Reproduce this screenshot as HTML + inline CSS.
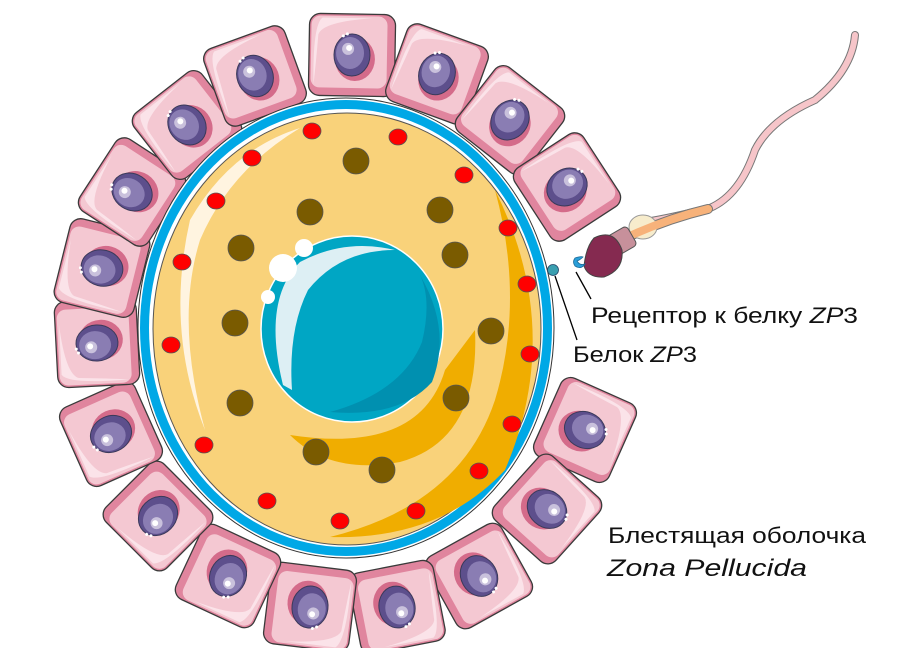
<!DOCTYPE html>
<html><head><meta charset="utf-8"><style>html,body{margin:0;padding:0;background:#fff}svg{display:block}</style></head>
<body>
<svg width="900" height="648" viewBox="0 0 900 648" xmlns="http://www.w3.org/2000/svg">
<defs>
<g id="cell">
<rect x="-43" y="-41" width="86" height="82" rx="11" fill="#e0859e" stroke="#3a3a3a" stroke-width="1.3"/>
<rect x="-41" y="-39" width="76" height="72" rx="9" fill="#f4c8d2"/>
<path d="M-38 30 Q-40 -30 -30 -37 L20 -37 Q-30 -33 -34 -20 Q-36 10 -38 30Z" fill="#fbe3e9"/>
<ellipse cx="3" cy="4" rx="20" ry="22" fill="#d46b8a"/>
<ellipse cx="0" cy="0" rx="18" ry="21" fill="#5d4f8c" stroke="#3a3a5a" stroke-width="1"/>
<ellipse cx="-2" cy="-2" rx="14" ry="16" fill="#8a7db3"/>
<ellipse cx="-4" cy="-6" rx="6" ry="6" fill="#c9c1dc"/>
<circle cx="-3" cy="-7" r="3" fill="#fff"/>
<circle cx="-9" cy="-19" r="1.5" fill="#fff"/><circle cx="-5" cy="-21" r="1.5" fill="#fff"/>
</g>
</defs>
<g>
<use href="#cell" transform="translate(352,55) rotate(1)"/>
<use href="#cell" transform="translate(437,74) rotate(20)"/>
<use href="#cell" transform="translate(510,120) rotate(38)"/>
<use href="#cell" transform="translate(567,187) rotate(57)"/>
<use href="#cell" transform="translate(585,430) rotate(114)"/>
<use href="#cell" transform="translate(547,509) rotate(132)"/>
<use href="#cell" transform="translate(479,576) rotate(151)"/>
<use href="#cell" transform="translate(397,607) rotate(169)"/>
<use href="#cell" transform="translate(310,607) rotate(187)"/>
<use href="#cell" transform="translate(228,576) rotate(205)"/>
<use href="#cell" transform="translate(158,516) rotate(225)"/>
<use href="#cell" transform="translate(111,434) rotate(246)"/>
<use href="#cell" transform="translate(97,343) rotate(267)"/>
<use href="#cell" transform="translate(102,268) rotate(284)"/>
<use href="#cell" transform="translate(132,192) rotate(303)"/>
<use href="#cell" transform="translate(187,125) rotate(322)"/>
<use href="#cell" transform="translate(255,76) rotate(340)"/>
</g>
<!-- zona -->
<ellipse cx="346" cy="328" rx="208" ry="230" fill="#fff" stroke="#333" stroke-width="1"/>
<ellipse cx="346" cy="328" rx="206" ry="228" fill="#00a8e6"/>
<ellipse cx="346" cy="328" rx="197" ry="219" fill="#fff"/>
<!-- cytoplasm -->
<ellipse cx="347" cy="329" rx="194" ry="216" fill="#f9d27a" stroke="#555" stroke-width="1"/>
<path d="M495 190 Q565 330 505 470 Q440 540 330 537 Q460 505 495 400 Q525 300 495 190Z" fill="#f0ad00"/>
<path d="M475 330 Q480 440 400 462 Q330 475 290 435 Q420 455 445 370Z" fill="#f0ad00"/>
<path d="M190 220 Q230 150 300 128 Q230 170 200 240 Q175 320 205 430 Q165 330 190 220Z" fill="#fff4e0"/>
<!-- nucleus -->
<ellipse cx="352" cy="329" rx="91" ry="93" fill="#00a6c4" stroke="#fff" stroke-width="1.5"/>
<path d="M283 385 Q262 300 300 262 Q345 238 395 250 Q340 250 308 290 Q288 330 292 390Z" fill="#ddeff4"/>
<path d="M420 275 Q452 330 432 382 Q400 418 330 412 Q402 392 422 342 Q432 300 420 275Z" fill="#0090b0"/>
<circle cx="283" cy="268" r="14" fill="#fff"/>
<circle cx="304" cy="248" r="9" fill="#fff"/>
<circle cx="268" cy="297" r="7" fill="#fff"/>
<!-- red dots -->
<g fill="#f00" stroke="#555" stroke-width="0.8">
<ellipse cx="312" cy="131" rx="9" ry="8"/><ellipse cx="398" cy="137" rx="9" ry="8"/><ellipse cx="252" cy="158" rx="9" ry="8"/><ellipse cx="464" cy="175" rx="9" ry="8"/><ellipse cx="216" cy="201" rx="9" ry="8"/><ellipse cx="508" cy="228" rx="9" ry="8"/><ellipse cx="182" cy="262" rx="9" ry="8"/><ellipse cx="527" cy="284" rx="9" ry="8"/><ellipse cx="171" cy="345" rx="9" ry="8"/><ellipse cx="530" cy="354" rx="9" ry="8"/><ellipse cx="204" cy="445" rx="9" ry="8"/><ellipse cx="512" cy="424" rx="9" ry="8"/><ellipse cx="267" cy="501" rx="9" ry="8"/><ellipse cx="479" cy="471" rx="9" ry="8"/><ellipse cx="340" cy="521" rx="9" ry="8"/><ellipse cx="416" cy="511" rx="9" ry="8"/>
</g>
<g fill="#7a5b00" stroke="#555" stroke-width="0.8">
<circle cx="356" cy="161" r="13"/><circle cx="310" cy="212" r="13"/><circle cx="440" cy="210" r="13"/><circle cx="241" cy="248" r="13"/><circle cx="455" cy="255" r="13"/><circle cx="235" cy="323" r="13"/><circle cx="491" cy="331" r="13"/><circle cx="240" cy="403" r="13"/><circle cx="456" cy="398" r="13"/><circle cx="316" cy="452" r="13"/><circle cx="382" cy="470" r="13"/>
</g>
<!-- sperm -->
<path d="M855 35 Q852 70 815 100 Q770 120 755 150 Q740 195 710 208 Q670 218 645 222" fill="none" stroke="#777" stroke-width="8" stroke-linecap="round"/>
<path d="M855 35 Q852 70 815 100 Q770 120 755 150 Q740 195 710 208 Q670 218 645 222" fill="none" stroke="#f6c5c9" stroke-width="6" stroke-linecap="round"/>
<path d="M708 209 Q670 218 632 235" fill="none" stroke="#777" stroke-width="10" stroke-linecap="round"/>
<ellipse cx="643" cy="227" rx="14" ry="12" fill="#f7eccc" stroke="#999" stroke-width="1"/>
<path d="M708 209 Q670 218 632 235" fill="none" stroke="#f7b27a" stroke-width="8" stroke-linecap="round"/>
<rect x="610" y="230" width="24" height="22" rx="4" fill="#c7909b" stroke="#555" transform="rotate(-30 622 242)"/>
<path d="M594 238 Q614 228 622 250 Q624 270 604 277 Q588 278 584 266 Q586 247 594 238Z" fill="#852a50" stroke="#444" stroke-width="1"/>
<path d="M575 258 q6 -2 8 -1 q-3 3 -6 4 q3 5 8 3 q-4 6 -10 2 q-3 -4 0 -8z" fill="#2a9ed8" stroke="#1b6b99" stroke-width="0.8"/>
<circle cx="553" cy="270" r="5.5" fill="#3a9fb0" stroke="#246" stroke-width="0.8"/>
<line x1="555" y1="276" x2="577" y2="340" stroke="#000" stroke-width="1.3"/>
<line x1="576" y1="272" x2="591" y2="299" stroke="#000" stroke-width="1.3"/>
<!-- labels -->
<g font-family="Liberation Sans, sans-serif" font-size="22" fill="#111">
<text x="591" y="323" textLength="267" lengthAdjust="spacingAndGlyphs">Рецептор к белку <tspan font-style="italic">ZP</tspan>3</text>
<text x="573" y="362" textLength="124" lengthAdjust="spacingAndGlyphs">Белок <tspan font-style="italic">ZP</tspan>3</text>
<text x="608" y="543" textLength="258" lengthAdjust="spacingAndGlyphs">Блестящая оболочка</text>
<text x="607" y="576" font-style="italic" font-size="24" textLength="200" lengthAdjust="spacingAndGlyphs">Zona Pellucida</text>
</g>
</svg>
</body></html>
